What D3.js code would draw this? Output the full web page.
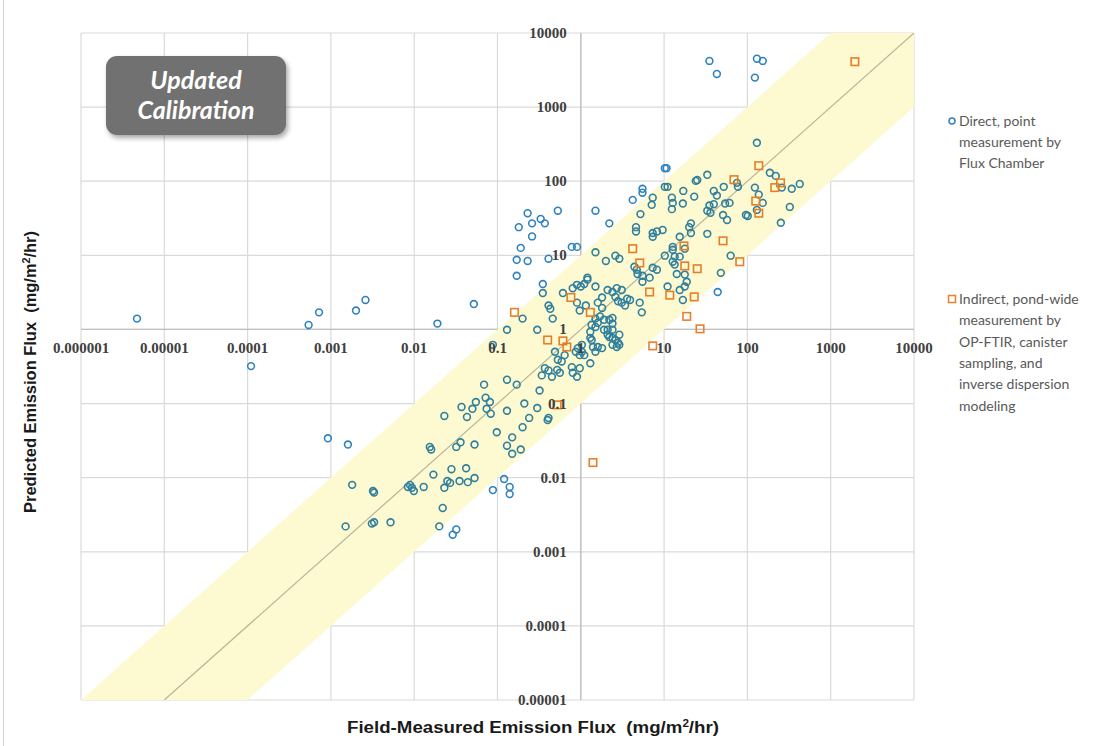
<!DOCTYPE html>
<html>
<head>
<meta charset="utf-8">
<script src="https://cdn.jsdelivr.net/npm/d3@7"></script>
<style>
  body { margin: 0; background: #fff; }
  svg { display: block; }
</style>
</head>
<body>
<svg id="chart" width="1106" height="746"></svg>
<script>
// Axis ticks (log decades)
const xTickValues = [1e-6, 1e-5, 1e-4, 1e-3, 1e-2, 1e-1, 1, 10, 100, 1000, 10000];
const xTickLabels = ["0.000001", "0.00001", "0.0001", "0.001", "0.01", "0.1", "1", "10", "100", "1000", "10000"];
const yTickValues = [1e-5, 1e-4, 1e-3, 1e-2, 1e-1, 1, 10, 100, 1000, 10000];
const yTickLabels = ["0.00001", "0.0001", "0.001", "0.01", "0.1", "1", "10", "100", "1000", "10000"];

// Band around the 1:1 line (predicted within a factor of 10 of measured)
const bandFactor = 10;

// Direct, point measurement by flux chamber: [field-measured, predicted] (mg/m2/hr)
const directPoints = [
  [4.7e-6,1.4],[1.1e-4,0.32],[5.4e-4,1.15],[7.2e-4,1.7],[2.0e-3,1.8],[2.6e-3,2.5],[0.019,1.2],[0.052,2.2],[0.13,0.99],[0.088,0.62],
  [35,4200],[43,2800],[130,4500],[153,4200],[123,2500],[130,330],
  [0.23,37],[0.18,24],[0.26,27],[0.33,31],[0.37,27],[0.53,40],[0.26,18],[0.19,12.6],[0.17,8.7],[0.23,8.4],[0.41,9.0],[0.17,5.3],
  [0.35,4.1],[0.35,3.1],[0.61,3.1],[0.78,13],[0.9,13],[1.5,40],[2.2,27],[1.5,11],[2.0,8.4],[2.6,9.9],[2.9,9.0],[1.2,5.0],
  [0.2,1.4],[0.3,0.99],[0.41,2.1],[0.43,1.9],[0.46,1.4],
  [0.8,3.6],[0.9,4.0],[1.0,3.8],[1.1,4.1],[1.2,4.7],[1.5,3.8],[1.8,2.7],[0.9,2.3],[0.97,1.8],[1.15,2.1],[1.6,2.3],[1.8,1.95],
  [2.1,3.4],[2.4,3.2],[2.7,3.6],[3.1,3.4],[2.6,2.75],[2.8,2.4],[3.1,2.3],[3.6,2.6],[3.9,2.5],[3.4,2.1],[5.5,5.3],[6.7,5.0],
  [1.7,1.5],[1.9,1.35],[2.2,1.35],[2.4,1.2],[1.5,1.4],[1.6,1.23],[1.35,1.15],[1.5,1.08],[1.9,0.99],[2.1,0.99],[1.3,0.93],
  [1.3,0.77],[2.1,0.85],[2.9,0.85],[2.4,0.77],[2.6,0.72],[2.8,0.66],[2.4,0.62],[2.7,0.58],[1.6,0.58],[1.8,0.56],[2.2,0.79],
  [2.9,0.62],[2.4,1.43],[2.4,0.99],
  [1.03,0.62],[0.92,0.56],[1.03,0.5],[1.1,0.45],[1.4,0.58],[1.5,0.5],[1.35,0.72],[0.87,0.5],[0.97,0.45],
  [0.49,0.5],[0.53,0.39],[0.59,0.37],[0.64,0.45],[0.37,0.30],[0.41,0.28],[0.34,0.24],[0.52,0.285],[0.45,0.23],[0.56,0.26],
  [0.78,0.31],[0.8,0.26],[0.97,0.3],[0.9,0.23],[1.3,0.35],
  [0.069,0.18],[0.13,0.21],[0.17,0.18],[0.32,0.15],[0.072,0.12],[0.081,0.105],[0.055,0.105],[0.037,0.09],[0.05,0.085],
  [0.074,0.085],[0.083,0.073],[0.043,0.066],[0.023,0.068],[0.13,0.08],[0.21,0.10],[0.30,0.087],[0.24,0.064],[0.40,0.06],
  [0.41,0.064],[0.098,0.041],[0.2,0.048],[0.15,0.035],[0.13,0.027],[0.15,0.021],[0.19,0.024],[0.036,0.030],[0.032,0.026],
  [0.053,0.028],[0.0154,0.026],[0.016,0.024],
  [0.028,0.013],[0.042,0.0134],[0.017,0.011],[0.025,0.009],[0.027,0.0085],[0.035,0.009],[0.044,0.0087],[0.053,0.0099],
  [0.023,0.0073],[0.013,0.0075],[0.0084,0.0075],[0.0094,0.0073],[0.0099,0.0066],[0.0089,0.008],[0.12,0.0096],[0.088,0.0068],
  [0.14,0.0075],[0.14,0.006],[0.022,0.0039],[0.02,0.0022],[0.032,0.002],[0.029,0.0017],
  [9.2e-4,0.034],[1.6e-3,0.028],[1.8e-3,0.008],[3.2e-3,0.0066],[3.3e-3,0.0063],[1.5e-3,0.0022],[3.1e-3,0.0024],[3.3e-3,0.0025],
  [5.2e-3,0.0025],
  [10.2,150],[10.7,150],[33,122],[186,130],[219,118],[75,95],[77,84],[24,101],[25,104],[10.2,84],[11,84],[259,82],[341,79],
  [425,92],[123,82],[137,66],[153,51],[130,41],[96,35],[101,34],[252,27.5],[323,45],[52,84],[39.5,74],[43,64],[61,51],[54,50],
  [39.5,49],[35,47],[33,40],[36,37.5],[51,35],[57,30],[17,74],[23,62],[16.8,50],[12.4,60],[12.7,51],[12.4,42],[7.3,60],
  [5.5,79],[5.5,70],[4.2,56],[7.1,48],[5.2,36],[4.6,24],[4.6,21],[7.3,20],[8.2,21],[9.6,22],[7.3,17.8],[15.4,17.8],[21,27],
  [20,24],[21,20],[33,19.5],[12.7,13],[12.7,11.9],[17.7,12.3],[10.2,9.9],[13.4,9.6],[15.4,9.6],[12.7,8.2],[13.4,7.5],
  [4.4,7.0],[4.7,6.4],[4.8,5.6],[7.3,6.8],[8.2,6.4],[63,9.9],[48,5.8],[14.2,5.6],[17.7,5.5],[44,3.2],[11,3.8],[16.8,2.5],
  [15.4,3.4],[17.7,3.8],[18.7,4.4],[5.1,2.3],[5.4,1.7],[5.5,4.4]
];

// Indirect, pond-wide measurement (OP-FTIR, canister sampling, inverse dispersion modeling)
const indirectPoints = [
  [1950,4100],[137,162],[69,105],[250,95],[213,82],[126,54],[137,37],[51,15.7],[81,8.2],[4.2,12.3],[5.1,7.9],[17.3,13.4],
  [17.7,7.2],[25,6.6],[6.7,3.2],[11.7,2.9],[23,2.75],[18.7,1.5],[27,1.02],[7.3,0.6],[0.76,2.7],[0.16,1.7],[1.3,1.7],
  [0.40,0.72],[0.61,0.70],[0.68,0.58],[0.52,0.096],[1.4,0.016]
];

const legendDirect = ["Direct, point", "measurement by", "Flux Chamber"];
const legendIndirect = ["Indirect, pond-wide", "measurement by", "OP-FTIR, canister", "sampling, and", "inverse dispersion", "modeling"];
const titleLines = ["Updated", "Calibration"];

const svg = d3.select("#chart");
const plot = { left: 81, right: 914, top: 33, bottom: 700 };

const x = d3.scaleLog().domain([1e-6, 1e4]).range([plot.left, plot.right]);
const y = d3.scaleLog().domain([1e-5, 1e4]).range([plot.bottom, plot.top]);

const defs = svg.append("defs");
defs.append("clipPath").attr("id", "plotClip")
  .append("rect")
  .attr("x", plot.left).attr("y", plot.top)
  .attr("width", plot.right - plot.left).attr("height", plot.bottom - plot.top);
const shadow = defs.append("filter").attr("id", "boxShadow")
  .attr("x", "-20%").attr("y", "-20%").attr("width", "150%").attr("height", "160%");
shadow.append("feDropShadow").attr("dx", 2).attr("dy", 3).attr("stdDeviation", 2.5)
  .attr("flood-color", "#000").attr("flood-opacity", 0.35);

// chart-area border on the left edge
svg.append("line").attr("x1", 3.5).attr("x2", 3.5).attr("y1", 0).attr("y2", 746)
  .attr("stroke", "#cfd9dc").attr("stroke-width", 1);

// gridlines
const grid = svg.append("g");
grid.selectAll(".vg").data(xTickValues).join("line")
  .attr("x1", d => x(d)).attr("x2", d => x(d))
  .attr("y1", plot.top).attr("y2", plot.bottom)
  .attr("stroke", "#dadada").attr("stroke-width", 1.2);
grid.selectAll(".hg").data(yTickValues).join("line")
  .attr("x1", plot.left).attr("x2", plot.right)
  .attr("y1", d => y(d)).attr("y2", d => y(d))
  .attr("stroke", "#dadada").attr("stroke-width", 1.2);

// axis lines crossing at 1
svg.append("line").attr("x1", x(1)).attr("x2", x(1)).attr("y1", plot.top).attr("y2", plot.bottom)
  .attr("stroke", "#bfbfbf").attr("stroke-width", 1.3);
svg.append("line").attr("x1", plot.left).attr("x2", plot.right).attr("y1", y(1)).attr("y2", y(1))
  .attr("stroke", "#bfbfbf").attr("stroke-width", 1.3);

const clipped = svg.append("g").attr("clip-path", "url(#plotClip)");

// 1:1 line
clipped.append("line")
  .attr("x1", x(1e-5)).attr("y1", y(1e-5))
  .attr("x2", x(1e4)).attr("y2", y(1e4))
  .attr("stroke", "#b8b8b8").attr("stroke-width", 1.2);

// markers
clipped.append("g").selectAll("circle").data(directPoints).join("circle")
  .attr("cx", d => x(d[0])).attr("cy", d => y(d[1])).attr("r", 3.4)
  .attr("fill", "none").attr("stroke", "#2f82bf").attr("stroke-width", 1.6);

const sq = 7.5;
clipped.append("g").selectAll("rect").data(indirectPoints).join("rect")
  .attr("x", d => x(d[0]) - sq / 2).attr("y", d => y(d[1]) - sq / 2)
  .attr("width", sq).attr("height", sq)
  .attr("fill", "none").attr("stroke", "#e8812f").attr("stroke-width", 1.6);

// factor-of-ten band, laid over everything as a translucent tint
const yMin = y.domain()[0], yMax = y.domain()[1], xMax = x.domain()[1];
const bandPoly = [
  [yMin / bandFactor, yMin],
  [yMax / bandFactor, yMax],
  [xMax, yMax],
  [xMax, xMax / bandFactor],
  [yMin * bandFactor, yMin]
];
clipped.append("path")
  .attr("d", d3.line().x(d => x(d[0])).y(d => y(d[1]))(bandPoly) + "Z")
  .attr("fill", "#fdfad2")
  .style("mix-blend-mode", "multiply");

// tick labels
const tickFont = "'Liberation Serif', 'DejaVu Serif', serif";
svg.append("g").selectAll("text").data(xTickValues).join("text")
  .attr("x", d => x(d)).attr("y", y(1) + 24)
  .attr("text-anchor", "middle")
  .attr("font-family", tickFont).attr("font-weight", "bold").attr("font-size", 15)
  .attr("fill", "#404040")
  .text((d, i) => xTickLabels[i]);
svg.append("g").selectAll("text").data(yTickValues).join("text")
  .attr("x", x(1) - 14).attr("y", d => y(d) + 5)
  .attr("text-anchor", "end")
  .attr("font-family", tickFont).attr("font-weight", "bold").attr("font-size", 15)
  .attr("fill", "#404040")
  .text((d, i) => yTickLabels[i]);

// axis titles
const titleFont = "'Liberation Sans', Arial, sans-serif";
const xt = svg.append("text")
  .attr("x", 533).attr("y", 733)
  .attr("text-anchor", "middle")
  .attr("font-family", titleFont).attr("font-weight", "bold").attr("font-size", 16)
  .attr("fill", "#1a1a1a")
  .attr("textLength", 372).attr("lengthAdjust", "spacingAndGlyphs");
xt.append("tspan").text("Field-Measured Emission Flux\u00a0\u00a0(mg/m");
xt.append("tspan").attr("dy", -6).attr("font-size", 10).text("2");
xt.append("tspan").attr("dy", 6).text("/hr)");

const yt = svg.append("text")
  .attr("transform", "translate(36,372) rotate(-90)")
  .attr("text-anchor", "middle")
  .attr("font-family", titleFont).attr("font-weight", "bold").attr("font-size", 17)
  .attr("fill", "#1a1a1a")
  .attr("textLength", 282).attr("lengthAdjust", "spacingAndGlyphs");
yt.append("tspan").text("Predicted Emission Flux\u00a0\u00a0(mg/m");
yt.append("tspan").attr("dy", -6).attr("font-size", 11).text("2");
yt.append("tspan").attr("dy", 6).text("/hr)");

// "Updated Calibration" label box
const box = svg.append("g");
box.append("rect")
  .attr("x", 106).attr("y", 56).attr("width", 180).attr("height", 79).attr("rx", 11)
  .attr("fill", "#717171").attr("filter", "url(#boxShadow)");
box.selectAll("text").data(titleLines).join("text")
  .attr("x", 196).attr("y", (d, i) => 89 + i * 30)
  .attr("text-anchor", "middle")
  .attr("font-family", "Lato, 'Open Sans', sans-serif")
  .attr("font-style", "italic").attr("font-weight", "bold").attr("font-size", 25)
  .attr("fill", "#fff")
  .text(d => d);

// legend
const legFont = "Lato, 'Open Sans', sans-serif";
const leg = svg.append("g").attr("font-family", legFont).attr("font-size", 14).attr("fill", "#595959");
leg.append("circle").attr("cx", 952).attr("cy", 121).attr("r", 3)
  .attr("fill", "none").attr("stroke", "#2f82bf").attr("stroke-width", 1.5);
leg.selectAll(".ld").data(legendDirect).join("text")
  .attr("x", 959).attr("y", (d, i) => 126 + i * 21).text(d => d);
leg.append("rect").attr("x", 948.5).attr("y", 295.5).attr("width", 7).attr("height", 7)
  .attr("fill", "none").attr("stroke", "#e8812f").attr("stroke-width", 1.5);
leg.selectAll(".li").data(legendIndirect).join("text")
  .attr("x", 959).attr("y", (d, i) => 304 + i * 21.3).text(d => d);
</script>
</body>
</html>
